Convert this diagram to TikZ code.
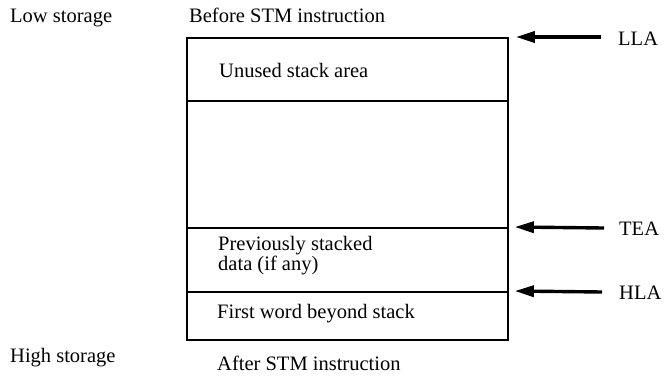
\documentclass[tikz,border=0pt]{standalone}
\usepackage{fontspec}
\setmainfont{Liberation Serif}
\usetikzlibrary{arrows.meta}
\begin{document}
\begin{tikzpicture}[x=1bp,y=-1bp,
  txt/.style={anchor=base west,inner sep=0pt,font=\fontsize{20.5bp}{24bp}\selectfont},
  lbl/.style={anchor=west,inner sep=0pt,font=\fontsize{20.5bp}{24bp}\selectfont},
  region/.style={draw,line width=1.8bp,minimum width=321bp,inner sep=0pt,anchor=north west},
  ptr/.style={line width=3.4bp,-{Triangle[length=19bp,width=11bp]}}]
\useasboundingbox (0,0) rectangle (668,386);
% regions
\node[region,minimum height=63bp]  (r1) at (186,37) {};
\node[region,minimum height=127bp] (r2) at (186,100) {};
\node[region,minimum height=64bp]  (r3) at (186,227) {};
\node[region,minimum height=48bp]  (r4) at (186,291) {};
% texts
\node[txt] (low)  at (10,22)  {Low storage};
\node[txt] (bef)  at (189,22) {Before STM instruction};
\node[txt] (unused) at (219,77) {Unused stack area};
\node[txt] (prev1) at (218,250) {Previously stacked};
\node[txt] (prev2) at (218,270) {data (if any)};
\node[txt] (first) at (217,318) {First word beyond stack};
\node[txt] (high) at (10,362) {High storage};
\node[txt] (aft)  at (217,370) {After STM instruction};
% labels
\node[lbl] (lla) at (618,39) {LLA};
\node[lbl] (tea) at (619,229) {TEA};
\node[lbl] (hla) at (619,293) {HLA};
\coordinate (llat) at (601,37);
\coordinate (teat) at (604,228);
\coordinate (hlat) at (602,292);
\draw[ptr] (llat) -- ([xshift=7bp]r1.north east);
\draw[ptr] (teat) -- ([xshift=6bp]r3.north east);
\draw[ptr] (hlat) -- ([xshift=6bp]r4.north east);
\end{tikzpicture}
\end{document}
